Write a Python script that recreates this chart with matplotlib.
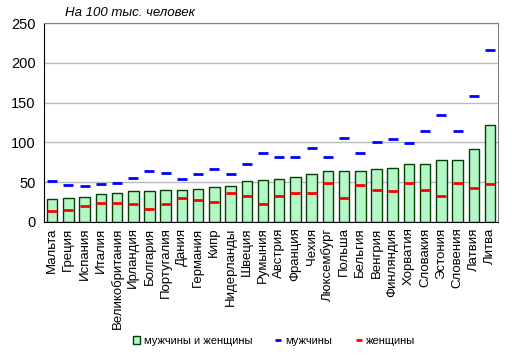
import matplotlib
matplotlib.use("Agg")
import matplotlib.pyplot as plt
from matplotlib.lines import Line2D
from matplotlib.patches import Patch
import numpy as np

plt.rcParams['font.family'] = ['Liberation Sans', 'DejaVu Sans']

countries = ["Мальта", "Греция", "Испания", "Италия", "Великобритания", "Ирландия",
             "Болгария", "Португалия", "Дания", "Германия", "Кипр", "Нидерланды",
             "Швеция", "Румыния", "Австрия", "Франция", "Чехия", "Люксембург",
             "Польша", "Бельгия", "Венгрия", "Финляндия", "Хорватия", "Словакия",
             "Эстония", "Словения", "Латвия", "Литва"]
total = [28.5, 29.8, 31, 34.8, 36, 38.6, 38.6, 39.8, 39.8, 41, 43.6, 44.9,
         51.2, 52.4, 53.7, 56.2, 60, 63.8, 63.8, 63.8, 66.3, 67.5, 72.6, 72.6,
         77.6, 77.6, 91.4, 121.6]
men = [51.6, 47, 44.5, 48, 49.5, 55.8, 64.6, 62, 54.5, 59.6, 65.9, 60.8,
       73.4, 87, 81, 82.2, 92.3, 81, 104.9, 86, 101, 103.6, 98.6, 114.9,
       135, 113.7, 157.7, 215.6]
women = [14.3, 15.5, 20.5, 24.3, 24.3, 23, 16.8, 23, 29.4, 28, 25.6, 35.7,
         33, 23, 33, 36.9, 35.7, 49.5, 29.4, 47, 40.7, 39.4, 49.5, 40.7,
         33, 49.5, 43.2, 48.2]

fig = plt.figure(figsize=(5.12, 3.55), dpi=100)
ax = fig.add_axes([0.086, 0.375, 0.887, 0.56])

x = np.arange(len(countries))
ax.bar(x, total, width=0.65, color="#b5f6c8", edgecolor="#004000", linewidth=1, zorder=2)
ax.plot(x, men, linestyle="none", marker="_", markersize=7.5, markeredgewidth=2,
        color="#0000ff", zorder=3)
ax.plot(x, women, linestyle="none", marker="_", markersize=7.5, markeredgewidth=2,
        color="#ff0000", zorder=3)

ax.set_xlim(-0.5, len(countries) - 0.5)
ax.set_ylim(0, 250)
ax.set_yticks([0, 50, 100, 150, 200, 250])
ax.yaxis.grid(True, color="#bbbbbb", linewidth=1)
ax.set_axisbelow(True)
ax.set_xticks(x)
ax.set_xticklabels(countries, rotation=90, fontsize=9.5)
ax.tick_params(axis="x", length=0, pad=4)
ax.tick_params(axis="y", labelsize=10.5, length=0, pad=6)
for side in ["top", "right"]:
    ax.spines[side].set_color("#808080")
for side in ["left", "bottom"]:
    ax.spines[side].set_color("black")

fig.text(0.127, 0.955, "На 100 тыс. человек", fontsize=9.5, style="italic")

# legend at the bottom
handles = [Patch(facecolor="#b5f6c8", edgecolor="#004000"),
           Line2D([], [], linestyle="none", marker="_", markersize=5, markeredgewidth=2, color="#0000ff"),
           Line2D([], [], linestyle="none", marker="_", markersize=5, markeredgewidth=2, color="#ff0000")]
fig.legend(handles, ["мужчины и женщины", "мужчины", "женщины"], loc="center",
           bbox_to_anchor=(0.535, 0.04), ncol=3, frameon=False, fontsize=8,
           handlelength=0.7, handletextpad=0.3, columnspacing=2.0)

fig.savefig("out.png", dpi=100)
